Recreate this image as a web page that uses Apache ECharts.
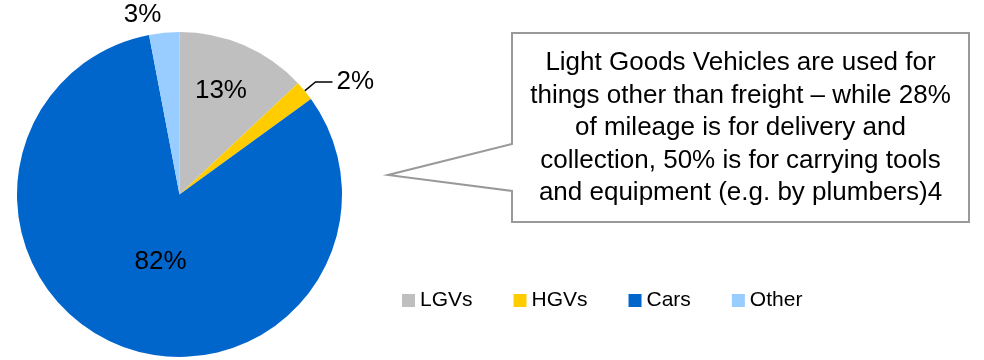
<!DOCTYPE html>
<html>
<head>
<meta charset="utf-8">
<script src="https://cdn.jsdelivr.net/npm/echarts@6/dist/echarts.min.js"></script>
<style>html,body{margin:0;padding:0;background:#fff}#c{width:984px;height:360px}</style>
</head>
<body>
<div id="c"></div>
<script>
var categories = ['LGVs', 'HGVs', 'Cars', 'Other'];
var values = [13, 2, 82, 3];
var colors = ['#BFBFBF', '#FFCC00', '#0066CC', '#99CCFF'];
var calloutLines = [
  'Light Goods Vehicles are used for',
  'things other than freight \u2013 while 28%',
  'of mileage is for delivery and',
  'collection, 50% is for carrying tools',
  'and equipment (e.g. by plumbers)4'
];

var FONT = '"Liberation Sans", Arial, sans-serif';
// label nudges relative to the 'inside' position (index matches categories)
var labelShift = [[8, -26], null, [12, -11], [-29, -96]];

var chart = echarts.init(document.getElementById('c'), null, {renderer: 'canvas'});

var data = categories.map(function (c, i) {
  var d = {name: c, value: values[i], itemStyle: {color: colors[i]}};
  if (i === 1) {
    d.label = {position: 'outside', distanceToLabelLine: 4};
    d.labelLine = {show: true, length: 14, length2: 17, lineStyle: {color: '#000', width: 1.5}};
  }
  return d;
});

var graphics = [{
  type: 'polygon',
  shape: {points: [[512, 33], [969, 33], [969, 222], [512, 222], [512, 191], [388, 175], [512, 144]]},
  style: {fill: '#fff', stroke: '#999999', lineWidth: 2}
}].concat(calloutLines.map(function (t, i) {
  return {
    type: 'text',
    x: 740.5,
    y: 63 + i * 32.5,
    style: {
      text: t,
      fontFamily: FONT,
      fontSize: 26,
      fill: '#000',
      align: 'center',
      verticalAlign: 'middle'
    }
  };
}));

chart.setOption({
  animation: false,
  legend: {
    data: categories,
    left: 402,
    top: 290,
    padding: 0,
    icon: 'rect',
    itemWidth: 13,
    itemHeight: 13,
    itemGap: 41,
    textStyle: {fontFamily: FONT, fontSize: 21, color: '#000'}
  },
  series: [{
    type: 'pie',
    center: [179.5, 194.5],
    radius: 162.5,
    startAngle: 90,
    clockwise: true,
    avoidLabelOverlap: false,
    data: data,
    itemStyle: {borderWidth: 0},
    label: {
      show: true,
      position: 'inside',
      formatter: '{c}%',
      fontFamily: FONT,
      fontSize: 26,
      color: '#000'
    },
    labelLine: {show: false},
    emphasis: {disabled: true},
    labelLayout: function (p) {
      var s = labelShift[p.dataIndex];
      if (!s) return {};
      return {dx: s[0], dy: s[1]};
    }
  }],
  graphic: graphics
});
</script>
</body>
</html>
